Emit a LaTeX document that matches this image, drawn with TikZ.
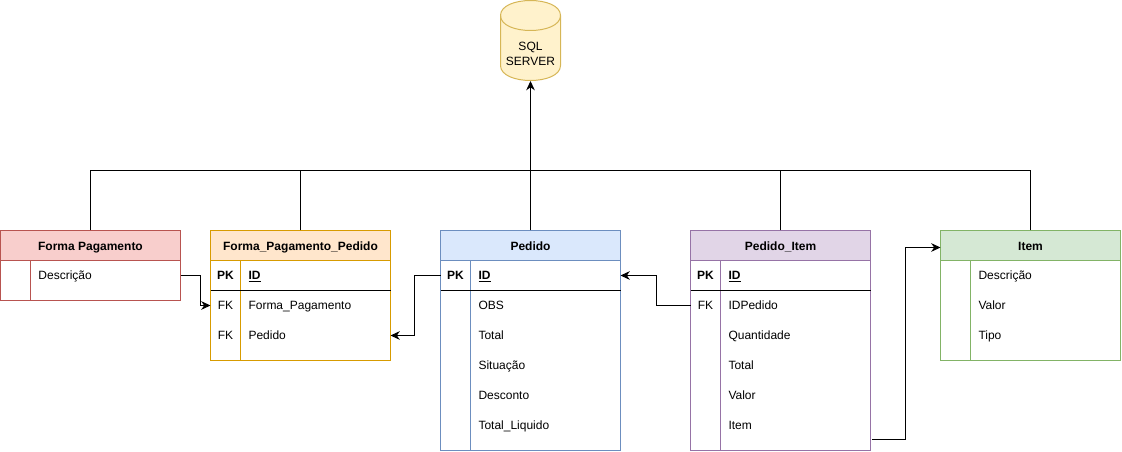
\documentclass[tikz,border=0pt]{standalone}
\usepackage{fontspec}
\setmainfont{Liberation Sans}
\usetikzlibrary{arrows.meta}
\usetikzlibrary{positioning}
\definecolor{red-fill}{HTML}{F8CECC}
\definecolor{red-line}{HTML}{B85450}
\definecolor{orange-fill}{HTML}{FFE6CC}
\definecolor{orange-line}{HTML}{D79B00}
\definecolor{blue-fill}{HTML}{DAE8FC}
\definecolor{blue-line}{HTML}{6C8EBF}
\definecolor{purple-fill}{HTML}{E1D5E7}
\definecolor{purple-line}{HTML}{9673A6}
\definecolor{green-fill}{HTML}{D5E8D4}
\definecolor{green-line}{HTML}{82B366}
\definecolor{yellow-fill}{HTML}{FFF2CC}
\definecolor{yellow-line}{HTML}{D6B656}
\tikzset{
    every node/.style={font=\fontsize{9}{11}\selectfont, outer sep=0pt},
    table title/.style={draw, anchor=north west, minimum width=135pt, minimum height=22.5pt,
        inner sep=0pt, text height=9pt, text depth=1.9pt, font=\fontsize{9}{11}\selectfont\bfseries},
    table body/.style={draw, anchor=north west, minimum width=135pt, inner sep=0pt},
    row key/.style={minimum width=22.5pt, minimum height=22.5pt, inner sep=0pt,
        text height=8.1pt, text depth=1.9pt},
    row field/.style={anchor=west, text width=100.5pt, inner xsep=6pt, inner ysep=0pt,
        minimum height=22.5pt, align=left, text height=8.1pt, text depth=1.9pt},
    link/.style={line width=0.75pt},
    arrow link/.style={line width=0.75pt, -{Stealth[length=7pt, width=6.5pt]}}
}
\newcommand{\pkfield}{\textbf{\underline{ID}}}
\begin{document}
\begin{tikzpicture}[x=0.75pt, y=-0.75pt, line width=0.75pt]
    \useasboundingbox (0,0) rectangle (1122,452);

    % database
    \filldraw[draw=yellow-line, fill=yellow-fill] (500.5,15.5) .. controls (500.5,-4.5) and (560.5,-4.5) .. (560.5,15.5)
        -- (560.5,65.5) .. controls (560.5,85.5) and (500.5,85.5) .. (500.5,65.5) -- cycle;
    \draw[yellow-line] (500.5,15.5) .. controls (500.5,35.5) and (560.5,35.5) .. (560.5,15.5);
    \node[align=center, minimum width=45pt, minimum height=40.5pt, inner sep=0pt] (db) at (530.5,54) {SQL\\SERVER};

    % table bodies and titles
    \node[table body, draw=red-line, minimum height=52.5pt] (fpbody) at (0.5,230.5) {};
    \node[table title, draw=red-line, fill=red-fill] (fp) at (0.5,230.5) {Forma Pagamento};

    \node[table body, draw=orange-line, minimum height=97.5pt] (fppbody) at (210.5,230.5) {};
    \node[table title, draw=orange-line, fill=orange-fill] (fpp) at (210.5,230.5) {Forma\_Pagamento\_Pedido};

    \node[table body, draw=blue-line, minimum height=165pt] (pbody) at (440.5,230.5) {};
    \node[table title, draw=blue-line, fill=blue-fill] (p) at (440.5,230.5) {Pedido};

    \node[table body, draw=purple-line, minimum height=165pt] (pibody) at (690.5,230.5) {};
    \node[table title, draw=purple-line, fill=purple-fill] (pi) at (690.5,230.5) {Pedido\_Item};

    \node[table body, draw=green-line, minimum height=97.5pt] (ibody) at (940.5,230.5) {};
    \node[table title, draw=green-line, fill=green-fill] (i) at (940.5,230.5) {Item};

    % key columns
    \draw[red-line] (30.5,260.5) -- (30.5,300.5);
    \draw[orange-line] (240.5,260.5) -- (240.5,360.5);
    \draw[blue-line] (470.5,260.5) -- (470.5,450.5);
    \draw[purple-line] (720.5,260.5) -- (720.5,450.5);
    \draw[green-line] (970.5,260.5) -- (970.5,360.5);

    % primary key separators
    \draw (210.5,290.5) -- (390.5,290.5);
    \draw (440.5,290.5) -- (620.5,290.5);
    \draw (690.5,290.5) -- (870.5,290.5);

    % rows of forma pagamento
    \node[row field] (fpdesc) at (30.5,275.5) {Descrição};

    % rows of forma pagamento pedido
    \node[row key] (fppkpk) at (225.5,275.5) {\textbf{PK}};
    \node[row field] (fppid) at (240.5,275.5) {\pkfield};
    \node[row key] (fppkfp) at (225.5,305.5) {FK};
    \node[row field] (fppfp) at (240.5,305.5) {Forma\_Pagamento};
    \node[row key] (fppkp) at (225.5,335.5) {FK};
    \node[row field] (fppp) at (240.5,335.5) {Pedido};

    % rows of pedido
    \node[row key] (pkpk) at (455.5,275.5) {\textbf{PK}};
    \node[row field] (pid) at (470.5,275.5) {\pkfield};
    \foreach \name/\rowy/\rowtext in {pobs/305.5/OBS, ptotal/335.5/Total, psit/365.5/Situação,
                                      pdesc/395.5/Desconto, pliq/425.5/Total\_Liquido}
        \node[row field] (\name) at (470.5,\rowy) {\rowtext};

    % rows of pedido item
    \node[row key] (pikpk) at (705.5,275.5) {\textbf{PK}};
    \node[row field] (piid) at (720.5,275.5) {\pkfield};
    \node[row key] (pikfk) at (705.5,305.5) {FK};
    \node[row field] (pipedido) at (720.5,305.5) {IDPedido};
    \foreach \name/\rowy/\rowtext in {piqtd/335.5/Quantidade, pitotal/365.5/Total,
                                      pivalor/395.5/Valor, piitem/425.5/Item}
        \node[row field] (\name) at (720.5,\rowy) {\rowtext};

    % rows of item
    \foreach \name/\rowy/\rowtext in {idesc/275.5/Descrição, ivalor/305.5/Valor, itipo/335.5/Tipo}
        \node[row field] (\name) at (970.5,\rowy) {\rowtext};

    % bus up to the database
    \coordinate (bus) at (530.5,170.5);
    \draw[link] (fp.north) |- (bus);
    \draw[link] (fpp.north) |- (bus);
    \draw[link] (pi.north) |- (bus);
    \draw[link] (i.north) |- (bus);
    \draw[arrow link] (p.north) -- (db.south);

    % foreign keys
    \coordinate (fpmid) at (200.5,275.5);
    \coordinate (pmid) at (414.5,275.5);
    \coordinate (pimid) at (656.5,305.5);
    \coordinate (piout) at (872,439.5);
    \coordinate (itemmid) at (905.5,439.5);
    \coordinate (itemin) at (940.5,247.5);
    \draw[arrow link] (fpdesc.east) -- (fpmid) |- (fppkfp.west);
    \draw[arrow link] (pkpk.west) -- (pmid) |- (fppp.east);
    \draw[arrow link] (pikfk.west) -- (pimid) |- (pid.east);
    \draw[arrow link] (piout) -- (itemmid) |- (itemin);

\end{tikzpicture}
\end{document}
